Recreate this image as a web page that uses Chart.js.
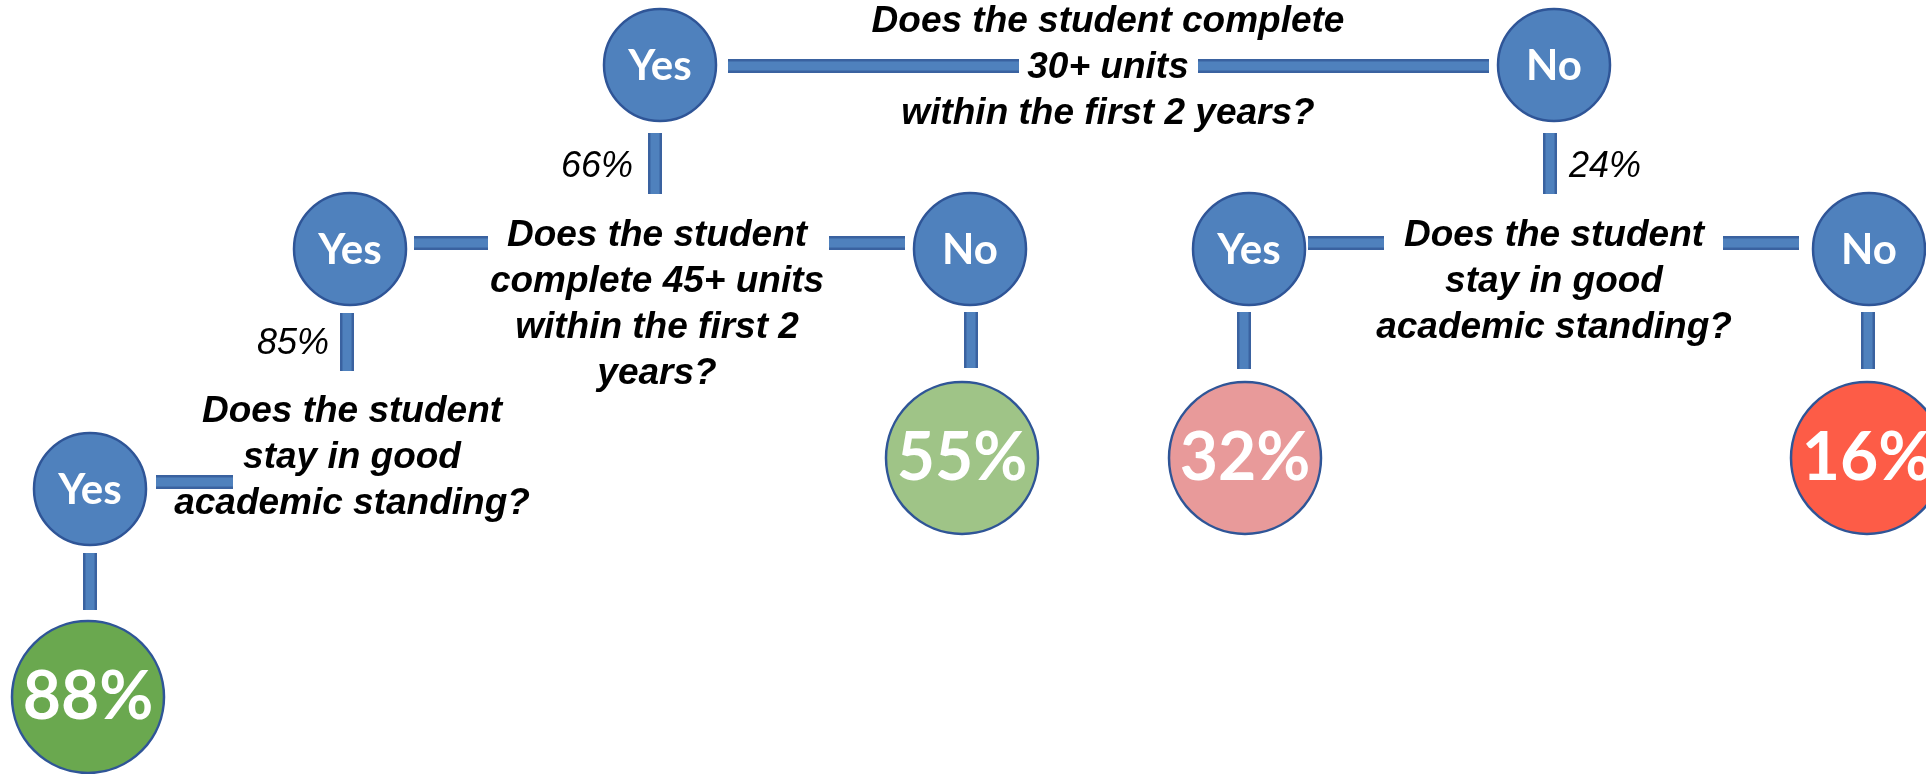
<!DOCTYPE html>
<html lang="en">
<head>
    <meta charset="UTF-8">
    <title>Student Completion Decision Tree</title>
    <script src="https://cdn.jsdelivr.net/npm/chart.js"></script>
    <style>
        body { margin: 0; background: #fff; overflow: hidden; }
        #wrap { width: 1926px; height: 774px; }
    </style>
</head>
<body>
    <div id="wrap"><canvas id="treeChart"></canvas></div>

    <script>
        // values
        const questions = [
            ['Does the student complete', '30+ units', 'within the first 2 years?'],
            ['Does the student', 'complete 45+ units', 'within the first 2', 'years?'],
            ['Does the student', 'stay in good', 'academic standing?'],
            ['Does the student', 'stay in good', 'academic standing?']
        ];
        const answerLabels = ['Yes', 'No', 'Yes', 'No', 'Yes', 'No', 'Yes'];
        const branchShares = ['66%', '24%', '85%'];
        const outcomeLabels = ['88%', '55%', '32%', '16%'];
        const outcomeColors = ['#6aa84f', '#9fc487', '#e89a9a', '#fd5c47'];

        // layout in canvas units (x right, y down)
        const answerPos = [[660, 65], [1554, 65], [350, 249], [970, 249], [1249, 249], [1869, 249], [90, 489]];
        const outcomePos = [[88, 697], [962, 458], [1245, 458], [1867, 458]];
        const questionPos = [[1108, 22], [657, 236], [1554, 236], [352, 412]];
        const sharePos = [[633, 167, 'right'], [1569, 167, 'left'], [329, 344, 'right']];
        const connectors = [
            [[728, 66], [1019, 66]], [[1198, 66], [1489, 66]],
            [[655, 133], [655, 194]], [[1550, 133], [1550, 194]],
            [[414, 243], [488, 243]], [[829, 243], [905, 243]],
            [[1308, 243], [1384, 243]], [[1723, 243], [1799, 243]],
            [[347, 313], [347, 371]], [[971, 312], [971, 368]],
            [[1244, 312], [1244, 369]], [[1868, 312], [1868, 369]],
            [[156, 482], [233, 482]], [[90, 553], [90, 610]]
        ];

        const segData = [];
        connectors.forEach(s => {
            segData.push({x: s[0][0], y: s[0][1]}, {x: s[1][0], y: s[1][1]}, {x: s[1][0], y: null});
        });

        const answerData = answerPos.map((p, i) => ({x: p[0], y: p[1], label: answerLabels[i]}));
        const outcomeData = outcomePos.map((p, i) => ({x: p[0], y: p[1], label: outcomeLabels[i]}));

        const textPlugin = {
            id: 'treeText',
            afterDatasetsDraw(chart) {
                const ctx = chart.ctx;
                const xs = chart.scales.x, ys = chart.scales.y;
                ctx.save();
                ctx.textBaseline = 'middle';

                ctx.fillStyle = '#000';
                ctx.textAlign = 'center';
                ctx.font = 'italic bold 37px "Liberation Sans", Arial, sans-serif';
                questions.forEach((lines, i) => {
                    lines.forEach((t, j) => {
                        ctx.fillText(t, xs.getPixelForValue(questionPos[i][0]), ys.getPixelForValue(questionPos[i][1] + j * 46));
                    });
                });

                ctx.font = 'italic 36px "Liberation Sans", Arial, sans-serif';
                branchShares.forEach((t, i) => {
                    ctx.textAlign = sharePos[i][2];
                    ctx.fillText(t, xs.getPixelForValue(sharePos[i][0]), ys.getPixelForValue(sharePos[i][1]));
                });

                ctx.fillStyle = '#fff';
                ctx.textAlign = 'center';
                ctx.font = 'bold 42px Lato, "Open Sans", sans-serif';
                answerData.forEach(d => {
                    ctx.fillText(d.label, xs.getPixelForValue(d.x), ys.getPixelForValue(d.y + 1));
                });
                ctx.font = 'bold 66px Lato, "Open Sans", sans-serif';
                outcomeData.forEach(d => {
                    ctx.fillText(d.label, xs.getPixelForValue(d.x), ys.getPixelForValue(d.y + 1));
                });
                ctx.restore();
            }
        };

        new Chart(document.getElementById('treeChart'), {
            type: 'scatter',
            data: {
                datasets: [
                    {
                        data: segData, showLine: true, spanGaps: false,
                        borderColor: '#3a62a0', borderWidth: 14, borderCapStyle: 'butt',
                        pointRadius: 0, order: 4
                    },
                    {
                        data: segData, showLine: true, spanGaps: false,
                        borderColor: '#4f81bd', borderWidth: 9, borderCapStyle: 'butt',
                        pointRadius: 0, order: 3
                    },
                    {
                        data: answerData, pointRadius: 56, pointStyle: 'circle',
                        backgroundColor: '#4f81bd', borderColor: '#2f5597', borderWidth: 2.5, order: 2
                    },
                    {
                        data: outcomeData, pointRadius: 76, pointStyle: 'circle',
                        backgroundColor: outcomeColors, borderColor: '#2f5597', borderWidth: 2.5, order: 1
                    }
                ]
            },
            options: {
                responsive: true,
                maintainAspectRatio: false,
                animation: false,
                events: [],
                layout: { padding: 0, autoPadding: false },
                plugins: { legend: { display: false }, tooltip: { enabled: false } },
                scales: {
                    x: { type: 'linear', min: 0, max: 1926, display: false },
                    y: { type: 'linear', min: 0, max: 774, reverse: true, display: false }
                }
            },
            plugins: [textPlugin]
        });
    </script>
</body>
</html>
